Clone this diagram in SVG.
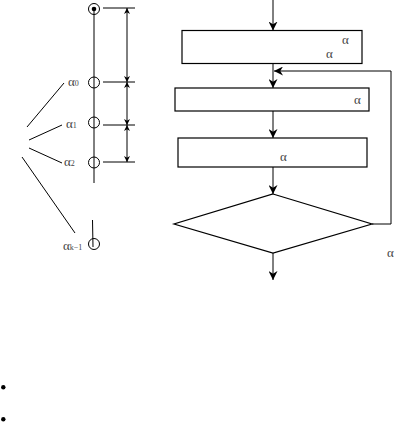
<svg xmlns="http://www.w3.org/2000/svg" width="401" height="426" viewBox="0 0 401 426">
<defs>
<marker id="ah" viewBox="0 0 10 10" refX="10" refY="5" markerWidth="9" markerHeight="9" orient="auto-start-reverse" markerUnits="userSpaceOnUse">
<path d="M0,0 L10,5 L0,10 L3,5 Z" fill="#000"/>
</marker>
<marker id="dh" viewBox="0 0 10 10" refX="10" refY="5" markerWidth="8" markerHeight="6" orient="auto-start-reverse" markerUnits="userSpaceOnUse">
<path d="M0,0 L10,5 L0,10 L3,5 Z" fill="#000"/>
</marker>
</defs>
<style>
.ln{stroke:#000;stroke-width:1;fill:none}
.bx{stroke:#000;stroke-width:1.2;fill:#fff}
.t{font-family:"Liberation Serif","DejaVu Serif",serif;font-size:13px;fill:#444}
.s{font-size:8px}
</style>
<rect width="401" height="426" fill="#fff"/>

<g id="axis">
<line class="ln" x1="94" y1="9" x2="94" y2="183"/>
<line class="ln" x1="103" y1="8" x2="135" y2="8"/>
<line class="ln" x1="103" y1="82" x2="135" y2="82"/>
<line class="ln" x1="103" y1="125" x2="135" y2="125"/>
<line class="ln" x1="103" y1="162" x2="135" y2="162"/>
</g>
<g id="top-node">
<circle class="ln" cx="94" cy="9" r="5.5"/>
<circle cx="94" cy="9" r="2.3" fill="#000"/>
</g>
<g id="node-a0"><circle class="ln" cx="94" cy="82.5" r="5.5"/><text class="t" x="68" y="86">α<tspan class="s">0</tspan></text></g>
<g id="node-a1"><circle class="ln" cx="94" cy="122.5" r="5.5"/><text class="t" x="66" y="128">α<tspan class="s">1</tspan></text></g>
<g id="node-a2"><circle class="ln" cx="94" cy="162.5" r="5.5"/><text class="t" x="64" y="166">α<tspan class="s">2</tspan></text></g>
<g id="node-ak1"><circle class="ln" cx="94" cy="244" r="5.5"/><line class="ln" x1="92.5" y1="220" x2="93" y2="247"/><text class="t" x="63" y="250">α<tspan class="s">k−1</tspan></text></g>

<g id="connectors">
<line class="ln" x1="127" y1="8" x2="127" y2="82" marker-start="url(#dh)" marker-end="url(#dh)"/>
<line class="ln" x1="127" y1="82" x2="127" y2="125" marker-start="url(#dh)" marker-end="url(#dh)"/>
<line class="ln" x1="127" y1="125" x2="127" y2="162" marker-start="url(#dh)" marker-end="url(#dh)"/>
<line class="ln" x1="27" y1="127" x2="64" y2="83"/>
<line class="ln" x1="29" y1="140" x2="62" y2="125"/>
<line class="ln" x1="29" y1="148" x2="62" y2="163"/>
<line class="ln" x1="22" y1="157" x2="75" y2="233"/>

<line class="ln" x1="273" y1="0" x2="273" y2="30.5" marker-end="url(#ah)"/>
<line class="ln" x1="273" y1="63.5" x2="273" y2="88" marker-end="url(#ah)"/>
<line class="ln" x1="273" y1="111" x2="273" y2="138" marker-end="url(#ah)"/>
<line class="ln" x1="273" y1="167" x2="273" y2="194" marker-end="url(#ah)"/>
<line class="ln" x1="273" y1="253" x2="273" y2="280" marker-end="url(#ah)"/>
<polyline class="ln" points="372,224 391,224 391,71 274,71" marker-end="url(#ah)"/>
</g>

<g id="box1"><rect class="bx" x="182" y="30.5" width="180" height="33"/><text class="t" x="342" y="44">α</text><text class="t" x="326" y="58">α</text></g>
<g id="box2"><rect class="bx" x="175" y="88" width="194" height="23"/><text class="t" x="354" y="104">α</text></g>
<g id="box3"><rect class="bx" x="178" y="138" width="189" height="29"/><text class="t" x="280" y="161">α</text></g>
<g id="decision"><polygon class="bx" points="273,194 372,224 273,253 174,224"/></g>
<text class="t" x="387" y="257">α</text>

<g id="bullets">
<circle cx="3.3" cy="387.3" r="2.2" fill="#000"/>
<circle cx="3.3" cy="419.3" r="2.2" fill="#000"/>
</g>
</svg>
